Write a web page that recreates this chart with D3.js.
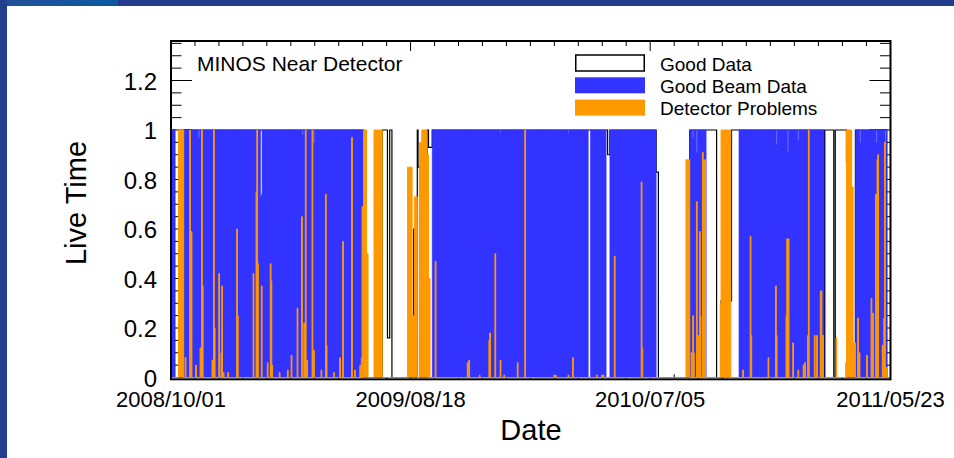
<!DOCTYPE html>
<html>
<head>
<meta charset="utf-8">
<script src="https://cdn.jsdelivr.net/npm/d3@7"></script>
<style>
  html, body { margin: 0; padding: 0; background: #fff; }
  svg { display: block; font-family: "Liberation Sans", Arial, Helvetica, sans-serif; }
</style>
</head>
<body>
<svg width="954" height="458"></svg>
<script>
// ---- data (day index counted from 2008/10/01, one bin per day) ----
const startDay = "2008/10/01";
const endDay = "2011/05/23";
const tickLabels = ["2008/10/01", "2009/08/18", "2010/07/05", "2011/05/23"];
const seriesNames = ["Good Data", "Good Beam Data", "Detector Problems"];

// [firstDay, lastDay (exclusive), live time]
const goodDataRuns = [
  [0, 5, 1], [17, 258, 1], [283, 290, 1], [290, 293, 0.16], [293, 296, 1],
  [325, 326, 0.6], [330, 331, 1], [331, 333, 0.85], [343, 345, 1], [345, 350, 0.93],
  [350, 583, 1], [583, 585, 1], [585, 588, 0.9], [588, 650, 1], [650, 653, 0.83],
  [695, 731, 1], [737, 751, 0.31], [751, 875, 1], [876, 888, 1], [890, 905, 1],
  [905, 906, 0.87], [917, 959, 1]
];

const goodBeamRuns = [
  [0, 5, 1], [17, 258, 1], [350, 559, 1], [562, 583, 1], [588, 650, 1],
  [695, 717, 1], [761, 875, 1], [917, 959, 1]
];
// [day, live time] short dips inside beam periods
const goodBeamDips = [
  [37, 0.97], [120, 0.73], [121, 0.74], [176, 0.98], [191, 0.95], [441, 0.99],
  [532, 0.99], [699, 0.97], [704, 0.91], [811, 0.94], [826, 0.91], [840, 0.96],
  [923, 0.95], [945, 0.95], [957, 0.92]
];

const problemRuns = [
  [10, 17, 1], [258, 262, 1], [262, 264, 0.5], [272, 283, 1], [317, 323, 0.85],
  [323, 326, 0.25], [326, 330, 0.73], [333, 336, 0.95], [336, 343, 1],
  [343, 345, 0.9], [345, 347, 0.4], [690, 695, 0.88], [736, 737, 0.3],
  [737, 750, 1], [905, 912, 1], [912, 914, 0.77], [914, 917, 0.14]
];
const problemSpikes = [
  [19, 0.08], [25, 1], [27, 0.59], [33, 0.05], [39, 0.12], [41, 1], [42, 0.37],
  [55, 0.07], [57, 1], [58, 0.2], [64, 0.42], [67, 0.1], [68, 0.37], [70, 0.02],
  [76, 0.02], [88, 0.6], [89, 0.25], [110, 0.42], [114, 0.75], [115, 1], [116, 0.46],
  [121, 0.37], [129, 0.06], [133, 0.46], [134, 0.39], [135, 0.05], [145, 0.02],
  [156, 0.03], [161, 0.09], [169, 0.28], [175, 0.65], [178, 0.22], [180, 1],
  [182, 0.07], [189, 1], [191, 0.11], [201, 0.03], [207, 0.74], [208, 0.13],
  [218, 0.02], [226, 0.08], [230, 0.55], [242, 0.97], [246, 0.03], [253, 0.05],
  [255, 0.08], [256, 0.69],
  [354, 0.47], [397, 0.06], [399, 0.07], [413, 0.01], [426, 0.15], [427, 0.18],
  [434, 0.5], [441, 0.07], [446, 0.01], [464, 0.06], [474, 1], [513, 0.01],
  [515, 0.01], [532, 0.01], [538, 0.08], [570, 0.01], [577, 0.01], [579, 0.01],
  [594, 0.49], [630, 0.79], [631, 0.12],
  [697, 0.1], [699, 0.25], [700, 0.1], [704, 0.71], [706, 0.17], [708, 0.59],
  [709, 0.25], [712, 0.91], [713, 0.88], [715, 0.88],
  [766, 0.03], [776, 0.57], [777, 0.17], [800, 0.08], [810, 0.37], [811, 0.17],
  [824, 0.25], [825, 0.56], [827, 0.56], [833, 0.14], [840, 0.03], [847, 0.05],
  [849, 0.06], [853, 0.17], [854, 1], [862, 0.17], [865, 0.17], [870, 0.35],
  [871, 0.35], [873, 0.17], [891, 0.16], [904, 0.06],
  [920, 0.24], [922, 0.1], [932, 0.09], [938, 0.32], [940, 0.26], [944, 0.74],
  [946, 0.88], [947, 0.9], [953, 0.13], [955, 0.24], [956, 0.95], [958, 0.04]
];

const yTicks = [0, 0.2, 0.4, 0.6, 0.8, 1, 1.2];

// ---- layout ----
const svg = d3.select("svg");
const plotLeft = 171, plotRight = 890.5, plotTop = 41, plotBottom = 379.3;
const parseDay = d3.timeParse("%Y/%m/%d");
const fmt = d3.timeFormat("%Y/%m/%d");
const t0 = parseDay(startDay), t1 = parseDay(endDay);
const nBins = d3.timeDay.count(t0, t1);

let x = d3.scaleTime().domain([t0, t1]).range([plotLeft, plotRight]);
let y = d3.scaleLinear().domain([0, 1]).range([377.5, 130]);
const dayX = (d) => x(d3.timeDay.offset(t0, d));

function buildSeries(runs, spikes) {
    let v = new Array(nBins).fill(0);
    runs.forEach(([a, b, val]) => { for (let d = a; d < b; d++) v[d] = val; });
    (spikes || []).forEach(([d, val]) => { v[d] = val; });
    let pts = v.map((val, d) => ({day: d, v: val}));
    pts.push({day: nBins, v: v[nBins - 1]});
    return pts;
}

let goodData = buildSeries(goodDataRuns);
let goodBeam = buildSeries(goodBeamRuns, goodBeamDips);
let problems = buildSeries(problemRuns, problemSpikes);

// ---- page decoration ----
let defs = svg.append("defs");
let grad = defs.append("linearGradient").attr("id", "topgrad");
grad.append("stop").attr("offset", "0%").attr("stop-color", "#24509a");
grad.append("stop").attr("offset", "100%").attr("stop-color", "#0a58a0");
svg.append("rect").attr("x", 0).attr("y", 0).attr("width", 954).attr("height", 6).attr("fill", "#233c8d");
svg.append("rect").attr("x", 0).attr("y", 0).attr("width", 118).attr("height", 6).attr("fill", "url(#topgrad)");
svg.append("rect").attr("x", 0).attr("y", 0).attr("width", 7).attr("height", 458).attr("fill", "#233f90");

// ---- ticks (drawn under the histograms) ----
let tickLayer = svg.append("g").attr("stroke", "#000").attr("stroke-width", 1);
let majorX = tickLabels.map(s => x(parseDay(s)));
for (let i = 0; i < majorX.length; i++) {
    tickLayer.append("line").attr("x1", majorX[i]).attr("x2", majorX[i]).attr("y1", plotTop).attr("y2", plotTop + 10);
    tickLayer.append("line").attr("x1", majorX[i]).attr("x2", majorX[i]).attr("y1", plotBottom).attr("y2", plotBottom - 10);
    if (i < majorX.length - 1) {
        for (let k = 1; k < 10; k++) {
            let xx = majorX[i] + (majorX[i + 1] - majorX[i]) * k / 10;
            tickLayer.append("line").attr("x1", xx).attr("x2", xx).attr("y1", plotTop).attr("y2", plotTop + 5);
            tickLayer.append("line").attr("x1", xx).attr("x2", xx).attr("y1", plotBottom).attr("y2", plotBottom - 5);
        }
    }
}
d3.range(0, 28).forEach(i => {
    let yy = y(i * 0.05);
    if (yy < plotTop + 1) return;
    let len = (i % 4 === 0) ? 21 : 10.5;
    tickLayer.append("line").attr("x1", plotLeft).attr("x2", plotLeft + len).attr("y1", yy).attr("y2", yy);
    tickLayer.append("line").attr("x1", plotRight).attr("x2", plotRight - len).attr("y1", yy).attr("y2", yy);
});

// ---- histograms ----
let area = d3.area()
    .curve(d3.curveStepAfter)
    .x(d => dayX(d.day))
    .y0(y(0))
    .y1(d => y(d.v));
let line = d3.line()
    .curve(d3.curveStepAfter)
    .x(d => dayX(d.day))
    .y(d => y(d.v));

let histLayer = svg.append("g");
histLayer.append("path").datum(goodData).attr("d", area).attr("fill", "#fff");
histLayer.append("path").datum(goodData).attr("d", line).attr("fill", "none").attr("stroke", "#000").attr("stroke-width", 1.2);
histLayer.append("path").datum(goodBeam).attr("d", area).attr("fill", "#3333ff").attr("stroke", "#3333ff").attr("stroke-width", 0.6);
histLayer.append("path").datum(problems).attr("d", area).attr("fill", "#ff9900");
histLayer.append("path").datum(problems).attr("d", line).attr("fill", "none").attr("stroke", "#ff9900").attr("stroke-width", 1);

// ---- frame ----
svg.append("rect")
    .attr("x", plotLeft).attr("y", plotTop)
    .attr("width", plotRight - plotLeft).attr("height", plotBottom - plotTop)
    .attr("fill", "none").attr("stroke", "#000").attr("stroke-width", 2);

// ---- labels ----
svg.append("g").selectAll("text")
    .data(yTicks).enter().append("text")
    .attr("x", 157)
    .attr("y", d => y(d) + 9)
    .attr("text-anchor", "end")
    .attr("font-size", 24)
    .text(d => d);

svg.append("g").selectAll("text")
    .data(tickLabels).enter().append("text")
    .attr("x", d => x(parseDay(d)))
    .attr("y", 407)
    .attr("text-anchor", "middle")
    .attr("font-size", 22)
    .text(d => fmt(parseDay(d)));

svg.append("text").attr("x", 531).attr("y", 440).attr("text-anchor", "middle")
    .attr("font-size", 29).text("Date");
svg.append("text").attr("transform", "translate(86,203) rotate(-90)").attr("text-anchor", "middle")
    .attr("font-size", 29).text("Live Time");
svg.append("text").attr("x", 197).attr("y", 71).attr("font-size", 21).text("MINOS Near Detector");

// ---- legend ----
let legendFill = ["#fff", "#3333ff", "#ff9900"];
let legendStroke = ["#000", "none", "none"];
let legend = svg.append("g").selectAll("g")
    .data(seriesNames).enter().append("g")
    .attr("transform", (d, i) => `translate(575,${55 + i * 22.3})`);
legend.append("rect")
    .attr("x", (d, i) => i === 0 ? 0.75 : 0).attr("y", 0)
    .attr("width", (d, i) => i === 0 ? 68.5 : 70).attr("height", 16)
    .attr("fill", (d, i) => legendFill[i])
    .attr("stroke", (d, i) => legendStroke[i]).attr("stroke-width", 1.5);
legend.append("text")
    .attr("x", 85).attr("y", 15.5)
    .attr("font-size", 19)
    .text(d => d);
</script>
</body>
</html>
